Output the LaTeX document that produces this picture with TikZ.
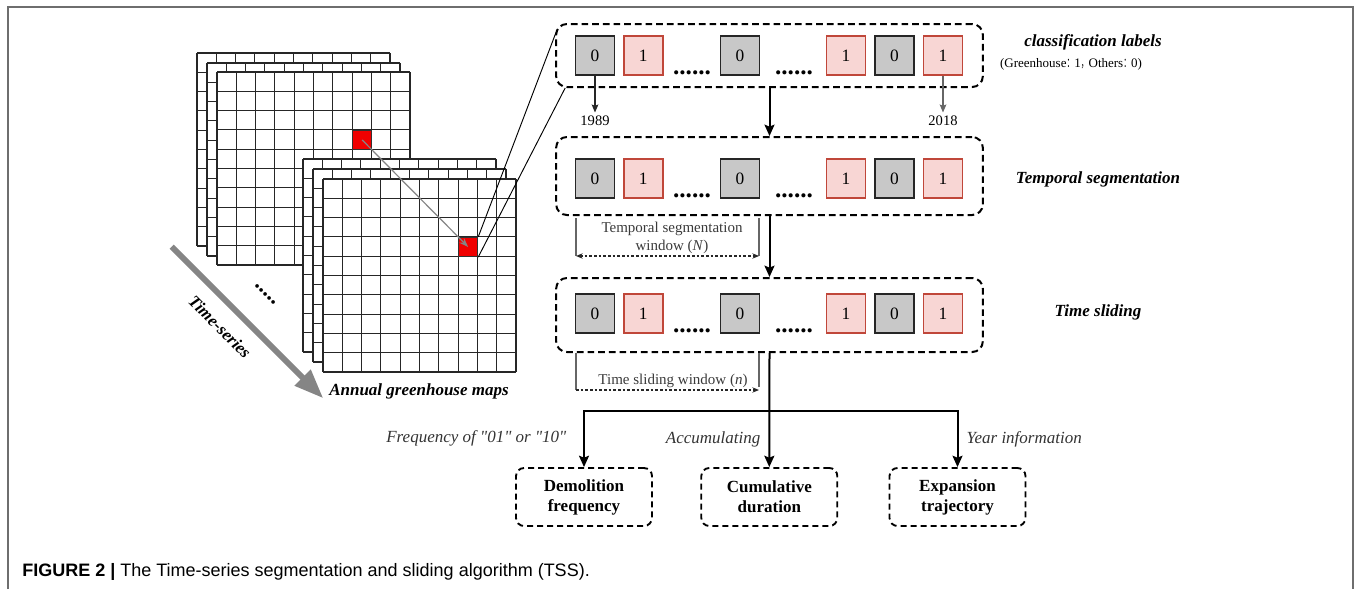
\documentclass[tikz,border=0pt]{standalone}
\usepackage{graphicx}
\usepackage{fontspec}
\setmainfont{Liberation Serif}[Ligatures=TeXOff]
\newfontfamily\capfont{Liberation Sans}
\newfontfamily\cjkfont{Noto Sans CJK SC}
\usetikzlibrary{arrows.meta,calc}

\definecolor{cellgray}{HTML}{C8C8C8}
\definecolor{cellpink}{HTML}{F8D6D4}
\definecolor{pinkedge}{HTML}{C0473A}
\definecolor{framegray}{HTML}{6E6E6E}
\definecolor{arrowgray}{HTML}{858585}
\definecolor{labelgray}{HTML}{3A3A3A}
\definecolor{hotred}{HTML}{F00000}

\tikzset{
  gridline/.style={line width=0.8pt, black!85},
  basecell/.style={line width=1.3pt, minimum size=29.25pt, inner sep=0pt,
    font=\fontsize{13}{14}\selectfont},
  zerocell/.style={basecell, draw=black!85, fill=cellgray},
  onecell/.style={basecell, draw=pinkedge, fill=cellpink},
  dotsnode/.style={anchor=base, inner sep=0pt, font=\bfseries\fontsize{19}{20}\selectfont},
  dashbox/.style={draw, line width=1.5pt, dash pattern=on 5pt off 3pt,
    rounded corners=8pt, inner sep=0pt, minimum width=320pt},
  resultbox/.style={draw, line width=1.4pt, dash pattern=on 4.5pt off 3pt,
    rounded corners=6pt, minimum width=102pt, minimum height=43.5pt,
    align=center, font=\bfseries\fontsize{12.75}{15}\selectfont},
  mainarrow/.style={line width=1.5pt, -{Stealth[length=8.5pt,width=7.5pt,inset=1.5pt]}},
  yearlbl/.style={inner sep=2.5pt, font=\fontsize{10.9}{12}\selectfont},
  yeararrow/.style={line width=0.9pt, -{Stealth[length=6pt,width=5pt,inset=1pt]}},
  sidelbl/.style={font=\bfseries\itshape\fontsize{12.75}{15}\selectfont},
  edgelbl/.style={font=\itshape\fontsize{12.75}{15}\selectfont, text=black!80},
  winlbl/.style={font=\fontsize{11.25}{13.5}\selectfont, text=labelgray, align=center},
  bracketline/.style={line width=0.8pt, black!60},
  dottedline/.style={line width=0.9pt, black!85, dash pattern=on 2pt off 1.5pt},
  redcell/.style={fill=hotred, draw=black!80, line width=0.6pt, minimum size=14.5pt, inner sep=0pt},
}

\newcommand\mapgrid[2]{%
  \fill[white] (#1,#2) rectangle ++(193,193);
  \foreach \k in {0,...,10}{
    \draw[gridline] (#1+\k*19.3,#2) -- ++(0,193);
    \draw[gridline] (#1,#2+\k*19.3) -- ++(193,0);
  }}

\newcommand\cellrow[2]{%
  \node[zerocell] (#1a) at (595,#2) {0};
  \node[onecell]  (#1b) at (643.3,#2) {1};
  \node[dotsnode] (#1p) at (692,#2+18.5) {......};
  \node[zerocell] (#1c) at (740,#2) {0};
  \node[dotsnode] (#1q) at (794,#2+18.5) {......};
  \node[onecell]  (#1d) at (846,#2) {1};
  \node[zerocell] (#1e) at (894.5,#2) {0};
  \node[onecell]  (#1f) at (943,#2) {1};
}

\newcommand\fwpunct[1]{\scalebox{0.6}[1]{\cjkfont #1}}

\begin{document}
\begin{tikzpicture}[x=0.75pt,y=-0.75pt]
\useasboundingbox (0,0) rectangle (1356,589);

% frame
\draw[framegray, line width=1.5pt] (8,589) -- (8,6.5) -- (1353,6.5) -- (1353,589);

% back stack of maps
\mapgrid{197}{53}
\mapgrid{207}{63}
\mapgrid{217}{72}
\node[redcell, anchor=north west] (r1) at (352.1,129.9) {};

% front stack of maps
\mapgrid{303}{159}
\mapgrid{313}{169}
\mapgrid{323}{179}
\node[redcell, anchor=north west] (r2) at (458.1,236.9) {};

\draw[arrowgray, line width=0.9pt, -{Stealth[length=7pt,width=5pt]}] (r1.center) -- (r2.center);

% time-series arrow
\coordinate (ts0) at (171.7,246.7);
\coordinate (ts1) at (323.3,398.3);
\draw[arrowgray, line width=4.5pt, -{Triangle[length=22pt,width=16pt]}] (ts0) -- (ts1);
\node[sidelbl, rotate=-45] (tslbl) at (220,327) {Time-series};
\node[font=\bfseries\fontsize{17}{18}\selectfont, rotate=-45, inner sep=0pt] (mapdots) at (266,294) {.....};
\node[sidelbl] (maplbl) at (419,391) {Annual greenhouse maps};

% row boxes
\node[dashbox, minimum height=47.25pt] (cls) at (769.5,55.5) {};
\node[dashbox, minimum height=58.5pt] (seg) at (769.5,176) {};
\node[dashbox, minimum height=55.5pt] (sli) at (769.5,315) {};

\cellrow{ra}{55.5}
\cellrow{rb}{178.7}
\cellrow{rc}{313.7}

% zoom lines
\draw[black, line width=0.7pt] (r2.north east) -- ($(cls.north west)+(1,9)$);
\draw[black, line width=0.7pt] (r2.south east) -- ($(cls.south west)+(10,0)$);

% years
\node[yearlbl] (y1) at (595,121) {1989};
\node[yearlbl] (y2) at (943,121) {2018};
\draw[yeararrow, black!85] (raa.south) -- (y1.north);
\draw[yeararrow, black!60] (raf.south) -- (y2.north);

% side labels
\node[sidelbl] (clslbl) at (1093,42) {classification labels};
\node[font=\fontsize{9.75}{12}\selectfont] (clsnote) at (1071,64)
  {(Greenhouse\fwpunct{：}1\fwpunct{，}Others\fwpunct{：}0)};
\node[sidelbl] (seglbl) at (1098,179) {Temporal segmentation};
\node[sidelbl] (slilbl) at (1098,312) {Time sliding};

% main flow
\draw[mainarrow] (cls.south) -- (seg.north);
\draw[mainarrow] (seg.south) -- (sli.north);

% temporal segmentation window
\coordinate (tw1) at (576,218);
\coordinate (tw2) at (576,256);
\coordinate (tw3) at (759,218);
\coordinate (tw4) at (759,256);
\draw[bracketline] (tw1) -- (tw2);
\draw[bracketline] (tw3) -- (tw4);
\draw[dottedline, {Stealth[length=5pt,width=4pt]}-{Stealth[length=5pt,width=4pt]}] (tw2) -- (tw4);
\node[winlbl] (twlbl) at (672,238) {Temporal segmentation\\window (\textit{N})};

% time sliding window
\coordinate (sw1) at (576,353);
\coordinate (sw2) at (576,390);
\coordinate (sw3) at (759,353);
\coordinate (sw4) at (759,390);
\draw[bracketline] (sw1) -- (sw2);
\draw[bracketline] (sw3) -- ($(sw4)+(0,-3)$);
\draw[dottedline, -{Stealth[length=5pt,width=4pt]}] (sw2) -- (sw4);
\node[winlbl] (swlbl) at (673,381) {Time sliding window (\textit{n})};

% results
\node[resultbox] (dem) at (584,497) {Demolition\\frequency};
\node[resultbox] (cum) at (769.3,497) {Cumulative\\duration};
\node[resultbox] (exp) at (957.5,497) {Expansion\\trajectory};

\coordinate (j) at (769.3,410.7);
\draw[mainarrow] (sli.south) -- (cum.north);
\draw[mainarrow] (j) -| (dem.north);
\draw[mainarrow] (j) -| (exp.north);

\node[edgelbl, anchor=east] (l1) at (571,438) {Frequency of "01" or "10"};
\node[edgelbl, anchor=east] (l2) at (765,439) {Accumulating};
\node[edgelbl, anchor=west] (l3) at (962,439) {Year information};

% caption
\node[anchor=west, inner sep=0pt, font=\capfont\fontsize{13.5}{16}\selectfont] (cap) at (22,572)
  {\textbf{FIGURE 2 |} The Time-series segmentation and sliding algorithm (TSS).};
\end{tikzpicture}
\end{document}
